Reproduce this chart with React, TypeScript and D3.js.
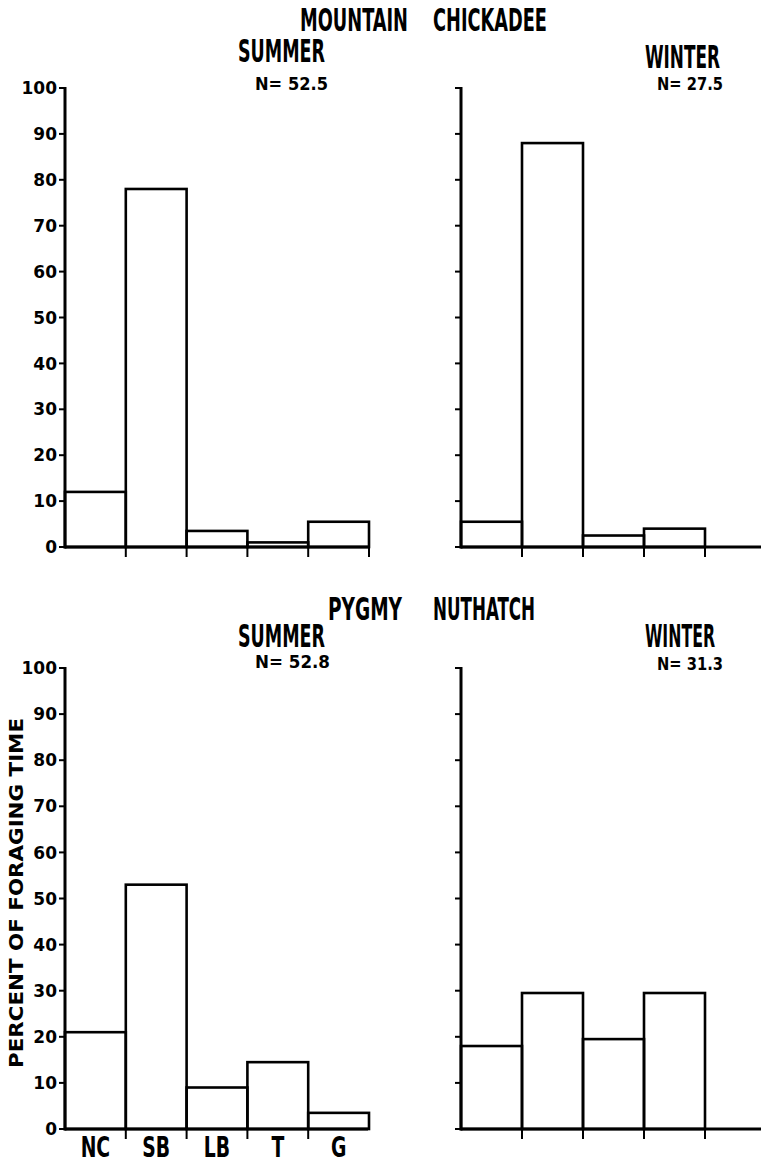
import React from 'react';
import * as d3 from 'd3';

const categories = ['NC', 'SB', 'LB', 'T', 'G'];
const chickadeeSummer = [12, 78, 3.5, 1, 5.5];
const chickadeeWinter = [5.5, 88, 2.5, 4, 0];
const nuthatchSummer = [21, 53, 9, 14.5, 3.5];
const nuthatchWinter = [18, 29.5, 19.5, 29.5, 0];
const yTicks = [0, 10, 20, 30, 40, 50, 60, 70, 80, 90, 100];

const condensed = "'Liberation Sans Narrow', 'DejaVu Sans Condensed', 'Liberation Sans', sans-serif";
const boldSans = "'DejaVu Sans', 'Liberation Sans', sans-serif";

type PanelProps = {
  values: number[];
  x: d3.ScaleLinear<number, number>;
  y: d3.ScaleLinear<number, number>;
  axisEnd: number;
  labels: boolean;
  catLabels?: boolean;
};

const Panel = ({ values, x, y, axisEnd, labels, catLabels }: PanelProps) => {
  const x0 = x(0);
  const base = y(0);
  return (
    <g>
      {values.map((v, i) =>
        v > 0 ? (
          <rect
            key={i}
            x={x(i)}
            y={y(v)}
            width={x(i + 1) - x(i)}
            height={base - y(v)}
            fill="none"
            stroke="#000"
            strokeWidth={2.6}
          />
        ) : null
      )}
      {/* y axis */}
      <line x1={x0} x2={x0} y1={y(100) - 1} y2={base + 1.5} stroke="#000" strokeWidth={3} />
      {yTicks.map((t) => (
        <g key={t}>
          <line x1={x0 - 6} x2={x0} y1={y(t)} y2={y(t)} stroke="#000" strokeWidth={2} />
          {labels && (
            <text
              x={x0 - 8}
              y={y(t)}
              dy="0.36em"
              textAnchor="end"
              fontFamily={boldSans}
              fontWeight="bold"
              fontSize={17}
            >
              {t}
            </text>
          )}
        </g>
      ))}
      {/* x axis */}
      <line x1={x0} x2={axisEnd} y1={base} y2={base} stroke="#000" strokeWidth={3} />
      {d3.range(1, 6).map((i) =>
        x(i) <= axisEnd ? (
          <line key={i} x1={x(i)} x2={x(i)} y1={base} y2={base + 10} stroke="#000" strokeWidth={2} />
        ) : null
      )}
      {catLabels &&
        categories.map((c, i) => (
          <text
            key={c}
            transform={`translate(${(x(i) + x(i + 1)) / 2},${base + 28}) scale(0.72,1)`}
            textAnchor="middle"
            fontFamily={condensed}
            fontWeight="bold"
            fontSize={29}
          >
            {c}
          </text>
        ))}
    </g>
  );
};

type TitleProps = {
  x: number;
  y: number;
  len: number;
  size: number;
  text: string;
  family: string;
  anchor?: 'start' | 'end';
};

const Title = ({ x, y, len, size, text, family, anchor = 'start' }: TitleProps) => (
  <text
    x={x}
    y={y}
    textAnchor={anchor}
    textLength={len}
    lengthAdjust="spacingAndGlyphs"
    fontFamily={family}
    fontWeight="bold"
    fontSize={size}
  >
    {text}
  </text>
);

const App = () => {
  const width = 761;
  const height = 1164;

  const xSummer = d3.scaleLinear().domain([0, 5]).range([65, 369]);
  const xWinter = d3.scaleLinear().domain([0, 5]).range([461, 766]);
  const yTop = d3.scaleLinear().domain([0, 100]).range([547, 88]);
  const yBottom = d3.scaleLinear().domain([0, 100]).range([1129, 668]);

  return (
    <svg
      width={width}
      height={height}
      style={{ position: 'absolute', left: 0, top: 0, background: '#fff' }}
    >
      <rect width={width} height={height} fill="#fff" />

      <Title x={408} y={31} len={108} size={32} text="MOUNTAIN" family={condensed} anchor="end" />
      <Title x={433} y={31} len={114} size={32} text="CHICKADEE" family={condensed} />
      <Title x={238} y={62} len={87} size={32} text="SUMMER" family={condensed} />
      <Title x={720} y={68} len={75} size={32} text="WINTER" family={condensed} anchor="end" />
      <Title x={255} y={90} len={73} size={17} text="N= 52.5" family={boldSans} />
      <Title x={723} y={90} len={66} size={17} text="N= 27.5" family={boldSans} anchor="end" />

      <Panel values={chickadeeSummer} x={xSummer} y={yTop} axisEnd={369} labels />
      <Panel values={chickadeeWinter} x={xWinter} y={yTop} axisEnd={761} labels={false} />

      <Title x={402} y={620} len={74} size={32} text="PYGMY" family={condensed} anchor="end" />
      <Title x={433} y={620} len={102} size={32} text="NUTHATCH" family={condensed} />
      <Title x={238} y={647} len={87} size={32} text="SUMMER" family={condensed} />
      <Title x={715} y={647} len={70} size={32} text="WINTER" family={condensed} anchor="end" />
      <Title x={255} y={668} len={75} size={17} text="N= 52.8" family={boldSans} />
      <Title x={723} y={670} len={66} size={17} text="N= 31.3" family={boldSans} anchor="end" />

      <Panel values={nuthatchSummer} x={xSummer} y={yBottom} axisEnd={368} labels catLabels />
      <Panel values={nuthatchWinter} x={xWinter} y={yBottom} axisEnd={761} labels={false} />

      <text
        transform="translate(23,893) rotate(-90)"
        textAnchor="middle"
        textLength={350}
        lengthAdjust="spacingAndGlyphs"
        fontFamily={boldSans}
        fontWeight="bold"
        fontSize={19}
      >
        PERCENT OF FORAGING TIME
      </text>
    </svg>
  );
};

export default App;
